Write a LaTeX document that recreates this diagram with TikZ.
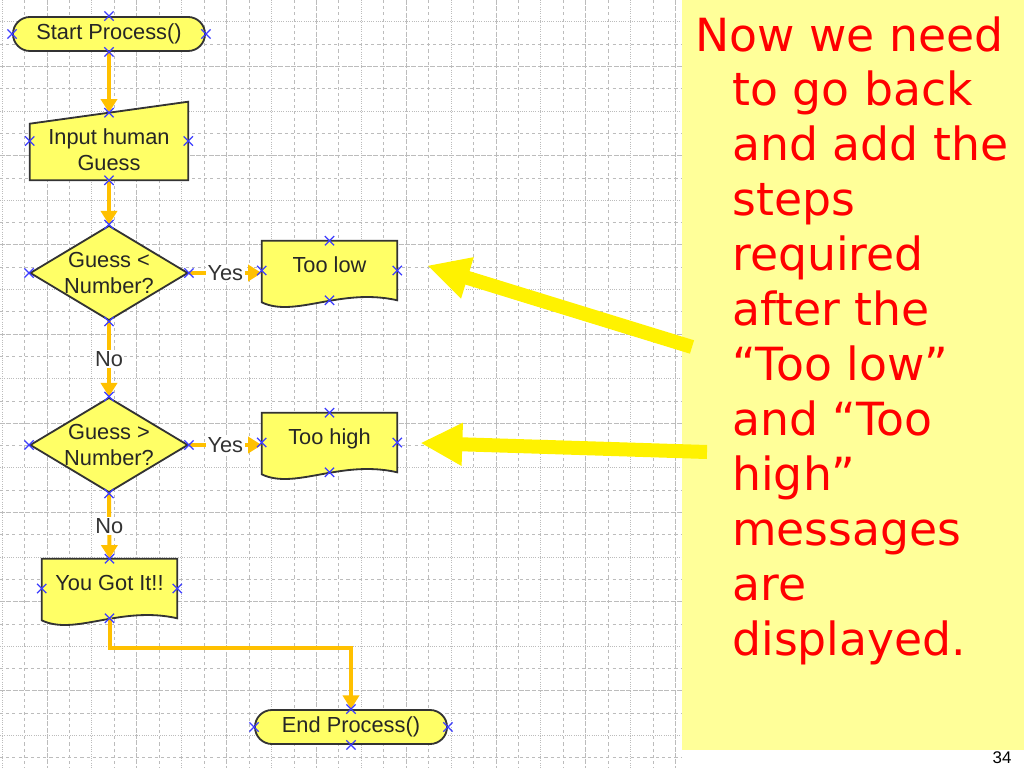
\documentclass[tikz,border=0pt]{standalone}
\usepackage{fontspec}
\setmainfont{Liberation Sans}
\newfontfamily\notefont{DejaVu Sans}
\usepackage{xcolor}
\usepackage{tikz}
\usetikzlibrary{arrows.meta,calc,positioning,shapes.geometric,shapes.misc,backgrounds}
\definecolor{boxyellow}{HTML}{FFFF66}
\definecolor{linkorange}{HTML}{FFC000}
\definecolor{notepad}{HTML}{FFFF99}
\definecolor{notered}{HTML}{FF0000}
\definecolor{anchorblue}{HTML}{3C3CFF}
\definecolor{gridgray}{HTML}{BCBCBC}
\newcommand{\fcfont}{\fontsize{15.5}{18.5}\selectfont}

\begin{document}
\begin{tikzpicture}[x=0.025cm,y=-0.025cm,
  gdot/.style={gridgray,line width=0.5pt,dash pattern=on 0.6pt off 1pt},
  gdash/.style={gridgray,line width=0.5pt,dash pattern=on 2.2pt off 2.2pt},
  gdense/.style={gridgray,line width=0.5pt,dash pattern=on 3.5pt off 1pt},
  fc/.style={draw=black!80,line width=1.3pt,fill=boxyellow},
  ftxt/.style={font=\fcfont,text=black!85,align=center,inner sep=0pt},
  term/.style={fc,ftxt,rounded rectangle,minimum width=4.8cm,minimum height=0.85cm},
  dec/.style={fc,diamond,minimum width=3.95cm,minimum height=2.375cm,inner sep=0pt},
  inbox/.style={minimum width=3.95cm,minimum height=1.95cm,inner sep=0pt},
  docbox/.style={ftxt,minimum width=3.375cm,minimum height=1.475cm,text height=0.75em,text depth=0.45em},
  link/.style={draw=linkorange,line width=0.1cm,-{Triangle[length=0.34cm,width=0.4cm]}},
  yn/.style={font=\fcfont,text=black!80,fill=white,inner sep=1pt},
  xmk/.style={cross out,draw=anchorblue,line width=0.9pt,minimum size=0.2cm,inner sep=0pt},
  hint/.style={draw=yellow,line width=0.35cm,-{Triangle[length=1.05cm,width=1cm]}},
  note/.style={font=\notefont\fontsize{32.5}{39.1}\selectfont,text=notered,align=left,inner sep=0pt}]
  \useasboundingbox (0,0) rectangle (1024,768);
  \node[term] (start) at (109,34) {Start Process()};
  \node[inbox,label={[ftxt,yshift=-0.225cm]center:Input human\\Guess}] (inp) at (109,141) {};
  \coordinate (inptop) at ($(inp.north)+(0,11)$);
  \node[dec,label={[ftxt]center:Guess <\\Number?}] (d1) at (109,273) {};
  \node[docbox] (low) at (329.5,270.5) {Too low};
  \node[dec,label={[ftxt]center:Guess >\\Number?}] (d2) at (109,445) {};
  \node[docbox] (high) at (329.5,442.5) {Too high};
  \node[docbox] (got) at (109.5,588.5) {You Got It!!};
  \node[term] (finish) at (351,727) {End Process()};
  \begin{scope}[on background layer]
    \foreach \k in {0,...,30}{
      \pgfmathtruncatemacro{\m}{mod(\k,4)}
      \ifcase\m \def\gs{gdot}\or\def\gs{gdash}\or\def\gs{gdense}\else\def\gs{gdash}\fi
      \draw[\gs] (2+22.45*\k,0) -- (2+22.45*\k,768);
    }
    \foreach \k in {0,...,34}{
      \pgfmathtruncatemacro{\m}{mod(\k,4)}
      \ifcase\m \def\gs{gdash}\or\def\gs{gdot}\or\def\gs{gdash}\else\def\gs{gdense}\fi
      \draw[\gs] (0,22.3*\k-0.5) -- (682,22.3*\k-0.5);
    }
    \fill[notepad] (682,0) rectangle (1024,750);
    \draw[fc] (inp.south west) -- (inp.south east) -- (inp.north east) -- ($(inp.north west)+(0,22)$) -- cycle;
    \foreach \n in {low,high,got}
      \draw[fc] (\n.north west) -- (\n.north east) -- (\n.south east)
        .. controls ($(\n.south east)+(-57,-13)$) and ($(\n.south west)+(33,18)$) .. ($(\n.south west)+(0,2)$) -- cycle;
  \end{scope}
  \draw[link] (start.south) -- (inptop);
  \draw[link] (inp.south) -- (d1.north);
  \draw[link] (d1.east) -- node[yn] {Yes} (d1.east -| low.west);
  \draw[link] (d1.south) -- node[yn] {No} (d2.north);
  \draw[link] (d2.east) -- node[yn] {Yes} (d2.east -| high.west);
  \draw[link] (d2.south) -- node[yn] {No} (got.north);
  \draw[link] (got.south) -- ++(0,30) -| (finish.north);
  \foreach \n in {start,d1,low,d2,high,got,finish}
    \foreach \a in {north,south,east,west}
      \node[xmk] (\n-\a) at (\n.\a) {};
  \foreach \a in {south,east,west}
    \node[xmk] (inp-\a) at (inp.\a) {};
  \node[xmk] (inp-north) at (inptop) {};
  \coordinate (hintlow) at (692,347);
  \coordinate (tiplow) at ($(low.east)+(30,-5)$);
  \coordinate (hinthigh) at (707,452);
  \coordinate (tiphigh) at ($(high.east)+(23,0.5)$);
  \draw[hint] (hintlow) -- (tiplow);
  \draw[hint] (hinthigh) -- (tiphigh);
  \node[note,anchor=north west] (note) at (695,16) {Now we need\\\hspace*{0.925cm}to go back\\\hspace*{0.925cm}and add the\\\hspace*{0.925cm}steps\\\hspace*{0.925cm}required\\\hspace*{0.925cm}after the\\\hspace*{0.925cm}“Too low”\\\hspace*{0.925cm}and “Too\\\hspace*{0.925cm}high”\\\hspace*{0.925cm}messages\\\hspace*{0.925cm}are\\\hspace*{0.925cm}displayed.};
  \node[font=\fontsize{12}{14}\selectfont,anchor=north,inner sep=0pt] (pagenum) at (1002,751.5) {34};
\end{tikzpicture}
\end{document}
